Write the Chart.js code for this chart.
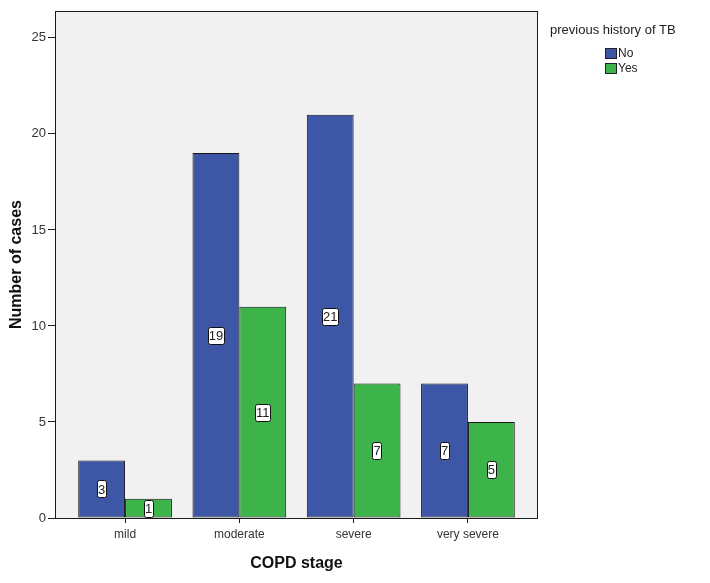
<!DOCTYPE html>
<html>
<head>
<meta charset="utf-8">
<script src="https://cdn.jsdelivr.net/npm/chart.js@4/dist/chart.umd.min.js"></script>
<style>
  html, body { margin: 0; padding: 0; background: #fff; }
  #wrap { width: 710px; height: 583px; }
</style>
</head>
<body>
<div id="wrap"><canvas id="chart"></canvas></div>
<script>
const stages = ['mild', 'moderate', 'severe', 'very severe'];
const noTB = [3, 19, 21, 7];
const yesTB = [1, 11, 7, 5];
const yTicks = [0, 5, 10, 15, 20, 25];

const FONT = "'Liberation Sans', Arial, sans-serif";
const BLUE = '#3d56a6';
const GREEN = '#3cb44a';

// light grey plot panel behind the bars
const panelBg = {
    id: 'panelBg',
    beforeDatasetsDraw(chart) {
        const { ctx, chartArea: a } = chart;
        ctx.save();
        ctx.fillStyle = '#f1f1f1';
        ctx.fillRect(a.left, a.top, a.right - a.left, a.bottom - a.top);
        ctx.restore();
    },
    afterDraw(chart) {
        const { ctx, chartArea: a } = chart;
        ctx.save();
        ctx.strokeStyle = '#1a1a1a';
        ctx.lineWidth = 1;
        ctx.strokeRect(Math.round(a.left) + 0.5, Math.round(a.top) + 0.5,
            Math.round(a.right - a.left) - 1, Math.round(a.bottom - a.top));
        ctx.restore();
    }
};

// value boxes in the middle of each bar
const valueBoxes = {
    id: 'valueBoxes',
    afterDatasetsDraw(chart) {
        const ctx = chart.ctx;
        ctx.save();
        ctx.font = '13px ' + FONT;
        ctx.textAlign = 'center';
        ctx.textBaseline = 'middle';
        chart.data.datasets.forEach((ds, di) => {
            chart.getDatasetMeta(di).data.forEach((bar, i) => {
                const txt = String(ds.data[i].y);
                const cx = bar.x;
                const cy = (bar.y + bar.base) / 2;
                const w = ctx.measureText(txt).width + 2;
                const h = 17;
                ctx.fillStyle = '#fff';
                ctx.strokeStyle = '#111';
                ctx.lineWidth = 1;
                ctx.beginPath();
                ctx.roundRect(Math.round(cx - w / 2) + 0.5, Math.round(cy - h / 2) + 0.5, Math.round(w), h, 2);
                ctx.fill();
                ctx.stroke();
                ctx.fillStyle = '#222';
                ctx.fillText(txt, cx, cy + 1);
            });
        });
        ctx.restore();
    }
};

// SPSS style legend at the top right
const sideLegend = {
    id: 'sideLegend',
    afterDraw(chart) {
        const ctx = chart.ctx;
        ctx.save();
        ctx.fillStyle = '#222';
        ctx.font = '13px ' + FONT;
        ctx.textBaseline = 'middle';
        ctx.fillText('previous history of TB', 550, 30);
        chart.data.datasets.forEach((ds, i) => {
            const y = 48 + i * 15;
            ctx.fillStyle = ds.backgroundColor;
            ctx.fillRect(605.5, y + 0.5, 11, 10);
            ctx.strokeStyle = '#222';
            ctx.strokeRect(605.5, y + 0.5, 11, 10);
            ctx.fillStyle = '#222';
            ctx.font = '12px ' + FONT;
            ctx.fillText(ds.label, 618, y + 6);
        });
        ctx.restore();
    }
};

new Chart(document.getElementById('chart'), {
    type: 'bar',
    data: {
        datasets: [
            {
                label: 'No',
                data: noTB.map((v, i) => ({ x: i, y: v })),
                backgroundColor: BLUE,
                borderColor: '#161616',
                borderWidth: 1,
                borderSkipped: false
            },
            {
                label: 'Yes',
                data: yesTB.map((v, i) => ({ x: i, y: v })),
                backgroundColor: GREEN,
                borderColor: '#161616',
                borderWidth: 1,
                borderSkipped: false
            }
        ]
    },
    options: {
        responsive: true,
        maintainAspectRatio: false,
        animation: false,
        barPercentage: 1.0,
        categoryPercentage: 0.82,
        layout: { padding: { top: 11, right: 172, left: 0, bottom: 0 } },
        plugins: {
            legend: { display: false },
            tooltip: { enabled: false }
        },
        scales: {
            x: {
                type: 'linear',
                offset: false,
                min: -0.613,
                max: stages.length - 1 + 0.613,
                afterBuildTicks: s => { s.ticks = stages.map((_, i) => ({ value: i })); },
                afterFit: s => { s.height = 65; },
                ticks: {
                    callback: v => stages[v],
                    color: '#333',
                    font: { family: FONT, size: 12 },
                    padding: 4,
                    maxRotation: 0
                },
                grid: { offset: false, drawOnChartArea: false, drawTicks: true, tickLength: 5, color: '#1a1a1a' },
                border: { display: false },
                title: {
                    display: true,
                    text: 'COPD stage',
                    color: '#111',
                    font: { family: FONT, size: 16, weight: 'bold' },
                    padding: { top: 0, bottom: 10 }
                }
            },
            y: {
                min: 0,
                max: 26.4,
                afterBuildTicks: s => { s.ticks = yTicks.map(v => ({ value: v })); },
                afterFit: s => { s.width = 55; },
                ticks: {
                    color: '#333',
                    font: { family: FONT, size: 13 },
                    padding: 2
                },
                grid: { drawOnChartArea: false, drawTicks: true, tickLength: 7, color: '#1a1a1a' },
                border: { display: false },
                title: {
                    display: true,
                    text: 'Number of cases',
                    color: '#111',
                    font: { family: FONT, size: 16, weight: 'bold' },
                    padding: { top: 7, bottom: 0 }
                }
            }
        }
    },
    plugins: [panelBg, valueBoxes, sideLegend]
});
</script>
</body>
</html>
